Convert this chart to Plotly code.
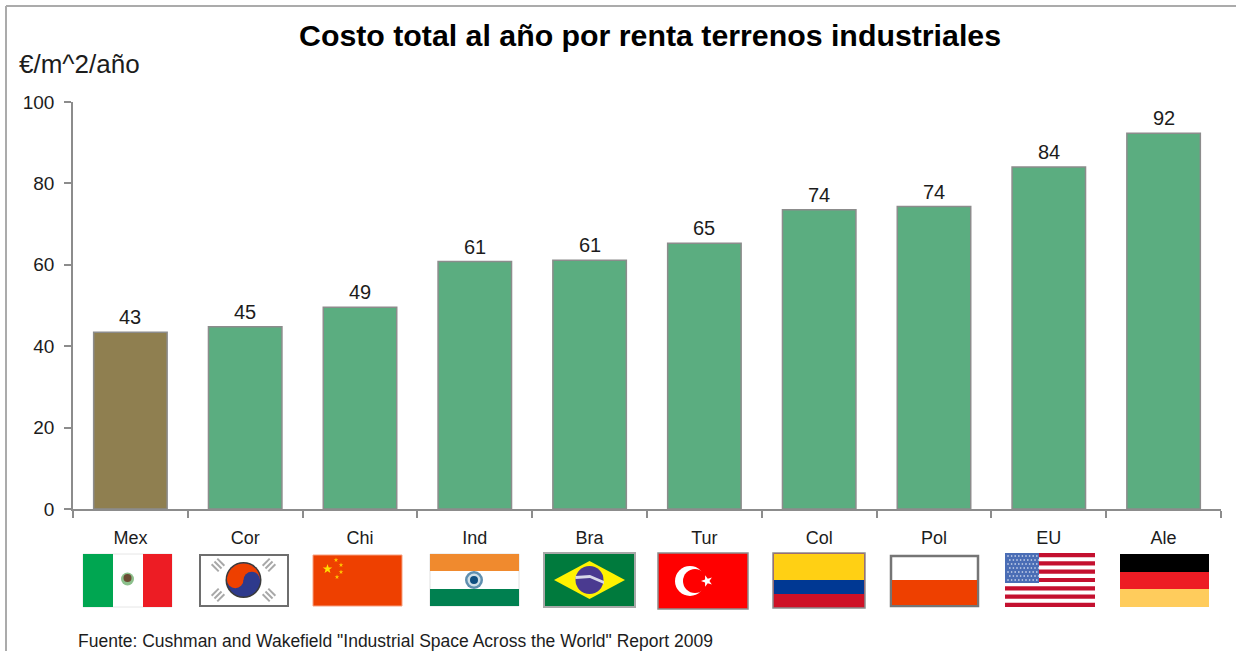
import math
import plotly.graph_objects as go

categories = ["Mex", "Cor", "Chi", "Ind", "Bra", "Tur", "Col", "Pol", "EU", "Ale"]
values = [43.4, 44.8, 49.6, 60.8, 61.1, 65.3, 73.5, 74.3, 84.0, 92.3]
value_labels = ["43", "45", "49", "61", "61", "65", "74", "74", "84", "92"]
bar_colors = ["#8F7F50"] + ["#5BAD80"] * 9
y_ticks = [0, 20, 40, 60, 80, 100]

W, H = 1236, 651
L, R, T, B = 73, 15, 102, 142
TXT = "#1c1c1c"
FONT = "Liberation Sans, Arial, sans-serif"

def px(x):
    return (x - L) / (W - L - R)

def py(y):
    return 1 - (y - T) / (H - T - B)

shapes = []

def rect(x0, y0, x1, y1, fill, line=None, lw=0):
    shapes.append(dict(type="rect", xref="paper", yref="paper",
                       x0=px(x0), x1=px(x1), y0=py(y0), y1=py(y1),
                       fillcolor=fill, line=dict(color=line or fill, width=lw)))

def circle(cx, cy, r, fill, line=None, lw=0):
    shapes.append(dict(type="circle", xref="paper", yref="paper",
                       x0=px(cx - r), x1=px(cx + r), y0=py(cy - r), y1=py(cy + r),
                       fillcolor=fill, line=dict(color=line or fill, width=lw)))

def path(points, fill):
    d = "M" + " L".join(f"{px(a):.5f},{py(b):.5f}" for a, b in points) + " Z"
    shapes.append(dict(type="path", xref="paper", yref="paper", path=d,
                       fillcolor=fill, line=dict(width=0)))

def star(cx, cy, r, fill, rot=-90):
    pts = []
    for i in range(10):
        rad = r if i % 2 == 0 else r * 0.4
        a = math.radians(rot + 36 * i)
        pts.append((cx + rad * math.cos(a), cy + rad * math.sin(a)))
    path(pts, fill)

def line(x0, y0, x1, y1, color, width):
    shapes.append(dict(type="line", xref="paper", yref="paper",
                       x0=px(x0), x1=px(x1), y0=py(y0), y1=py(y1),
                       line=dict(color=color, width=width)))

# Picture frame
line(6, 6, 6, H, "#ABABAB", 2)
line(6, 6, W, 6, "#ABABAB", 2)

# Mexico
rect(83, 554, 172, 607, "#FFFFFF", "#E6E6E6", 1)
rect(83, 554, 113, 607, "#00A651")
rect(143, 554, 172, 607, "#ED1C24")
circle(127.5, 579, 6.5, "#8CC08C")
circle(127.5, 578, 4, "#6B4A32")

# Korea
rect(200, 555, 288, 606, "#FFFFFF", "#6E6E6E", 2)
circle(243.5, 580, 18, "#3A3A3A")
circle(243.5, 580, 16.5, "#2E3A8C")
top = []
for i in range(0, 21):
    a = math.radians(180 + 9 * i)
    top.append((243.5 + 16.5 * math.cos(a), 580 + 16.5 * math.sin(a)))
path(top, "#EE4000")
circle(235.25, 580, 8.25, "#EE4000")
circle(251.75, 580, 8.25, "#2E3A8C")
for cx, cy, rot in [(218, 565, -45), (269, 565, 45), (218, 595, 45), (269, 595, -45)]:
    for off in (-4, 0, 4):
        ca, sa = math.cos(math.radians(rot)), math.sin(math.radians(rot))
        x0, y0 = cx + off * ca, cy + off * sa
        hx, hy = -sa * 5, ca * 5
        line(x0 - hx, y0 - hy, x0 + hx, y0 + hy, "#A8A8A8", 2)

# China
rect(313, 555, 402, 606, "#EE4000", "#F6A080", 1)
star(327.5, 569, 5, "#FFE000")
for sx, sy in [(336, 560), (341, 565), (341, 572), (337, 577)]:
    star(sx, sy, 2.4, "#FFC800")

# India
rect(430, 554, 519, 606, "#FFFFFF", "#E0E0E0", 1)
rect(430, 554, 519, 571, "#F08A2E")
rect(430, 589, 519, 606, "#008050")
circle(474, 580, 9, "#5F8FAF")
circle(474, 580, 6.5, "#CFE0E8")
circle(474, 580, 4, "#0F4F80")

# Brazil
rect(544, 553, 635, 607, "#007A3D", "#A8A8A8", 2)
path([(554, 580), (589.5, 561), (625, 580), (589.5, 599)], "#FFF200")
circle(589.5, 580, 14, "#4A3A90")
path([(575.5, 576), (590, 575), (604, 581), (604, 584), (590, 578), (575.5, 579)], "#D8D8E8")

# Turkey
rect(658, 553, 748, 609, "#FF0000", "#8C8C8C", 1.5)
circle(690, 581, 15, "#FFFFFF")
circle(695, 581, 12, "#FF0000")
star(707, 581, 6, "#FFFFFF", rot=180)

# Colombia
rect(773, 553, 865, 608, "#C8102E", "#8C8C8C", 1.5)
rect(774, 554, 864, 580, "#FFD014")
rect(774, 580, 864, 594, "#003893")
rect(774, 594, 864, 607, "#CE1126")

# Poland
rect(891, 556, 978, 606, "#FFFFFF", "#757575", 2.5)
rect(892, 580, 977, 605, "#EE4000")

# United States
rect(1005, 553, 1095, 607, "#FFFFFF")
for i in range(13):
    if i % 2 == 0:
        rect(1005, 553 + i * 54 / 13, 1095, 553 + (i + 1) * 54 / 13, "#C4102F")
rect(1005, 553, 1039, 583, "#4A6DB5")
for row in range(7):
    for col in range(9):
        cx = 1008 + col * 3.6 + (1.8 if row % 2 else 0)
        cy = 556 + row * 4
        rect(cx - 0.7, cy - 0.7, cx + 0.7, cy + 0.7, "#D5DDF0")

# Germany
rect(1120, 554, 1209, 572, "#000000")
rect(1120, 572, 1209, 589, "#ED1C24")
rect(1120, 589, 1209, 607, "#FFCC5C")

fig = go.Figure(go.Bar(
    x=categories, y=values, cliponaxis=False,
    marker=dict(color=bar_colors, line=dict(color="#8C8C8C", width=1.5)),
    width=0.64, hoverinfo="x+y",
))

bar_label_annotations = [
    dict(text=t, x=c, y=v, xref="x", yref="y", yanchor="bottom", xanchor="center",
         yshift=3, showarrow=False, borderpad=0,
         font=dict(size=20, color=TXT, family=FONT))
    for c, v, t in zip(categories, values, value_labels)
]

fig.update_layout(
    width=W, height=H, showlegend=False,
    margin=dict(l=L, r=R, t=T, b=B, pad=0),
    paper_bgcolor="#FFFFFF", plot_bgcolor="#FFFFFF",
    font=dict(family=FONT, color=TXT),
    shapes=shapes,
    annotations=bar_label_annotations + [
        dict(text="<b>Costo total al año por renta terrenos industriales</b>",
             xref="paper", yref="paper", x=px(649.5), y=py(36),
             xanchor="center", yanchor="middle", showarrow=False,
             font=dict(size=30.3, color="#000000", family=FONT)),
        dict(text="€/m^2/año", xref="paper", yref="paper", x=px(17), y=py(64),
             xanchor="left", yanchor="middle", showarrow=False,
             font=dict(size=26, color=TXT, family=FONT)),
        dict(text='Fuente: Cushman and Wakefield "Industrial Space Across the World" Report 2009',
             xref="paper", yref="paper", x=px(77), y=py(640.5),
             xanchor="left", yanchor="middle", showarrow=False, borderpad=0,
             font=dict(size=17.5, color=TXT, family=FONT)),
    ],
    xaxis=dict(type="category", range=[-0.5, 9.5], tickson="boundaries",
               ticks="outside", ticklen=7, tickwidth=1.5, tickcolor="#8C8C8C",
               showline=True, linecolor="#8C8C8C", linewidth=1.5, showgrid=False,
               tickfont=dict(size=18, color=TXT, family=FONT), ticklabelstandoff=12),
    yaxis=dict(range=[0, 100], tickvals=y_ticks, ticks="outside", ticklen=7,
               tickwidth=1.5, tickcolor="#8C8C8C", showline=True,
               linecolor="#8C8C8C", linewidth=1.5, showgrid=False, zeroline=False,
               tickfont=dict(size=19, color=TXT, family=FONT), ticklabelstandoff=6),
)

fig.write_html("out.html", post_script="document.body.style.margin='0';",
               config=dict(displayModeBar=False))
